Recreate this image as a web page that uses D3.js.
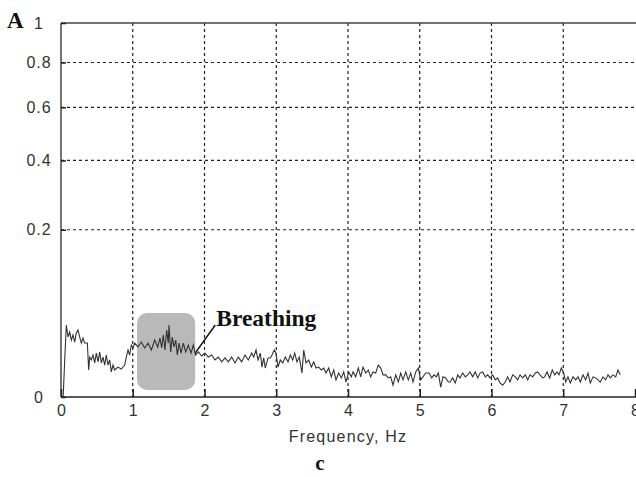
<!DOCTYPE html>
<html><head><meta charset="utf-8">
<script src="https://cdn.jsdelivr.net/npm/d3@7"></script>
<style>body{margin:0;background:#fff}svg{display:block}</style>
</head><body>
<svg id="c" width="636" height="477"></svg>
<script>
const freq = [0.03,0.05,0.074,0.098,0.121,0.144,0.167,0.191,0.213,0.237,0.261,0.283,0.307,0.330,0.367,0.386,0.400,0.422,0.446,0.470,0.492,0.516,0.539,0.562,0.585,0.609,0.631,0.655,0.679,0.701,0.725,0.748,0.794,0.840,0.888,0.910,0.934,0.957,0.980,1.003,1.027,1.073,1.119,1.167,1.213,1.259,1.306,
1.348,1.380,1.403,1.426,1.449,1.473,1.495,1.505,1.529,1.551,1.575,1.599,1.621,1.645,1.672,1.705,1.738,1.774,1.812,1.844,1.877,1.914,1.961,2.007,2.053,2.100,2.146,2.192,2.240,2.286,2.332,2.379,2.425,2.471,2.518,2.564,2.610,2.658,
2.686,2.718,2.746,2.778,2.801,2.825,2.847,2.885,2.917,2.941,2.973,2.997,3.024,3.056,3.090,3.126,3.164,3.196,3.229,3.257,3.289,3.321,3.359,3.383,3.415,3.452,3.489,3.522,3.554,3.592,3.628,3.661,3.693,3.731,3.767,3.801,3.833,3.870,3.907,3.940,3.972,4.010,4.046,
4.070,4.107,4.144,4.177,4.209,4.247,4.283,4.316,4.348,4.386,4.422,4.456,4.488,4.525,4.562,4.595,4.627,4.665,4.701,4.735,4.767,4.804,4.840,4.874,4.906,4.944,4.980,5.013,5.045,5.083,5.129,5.167,5.199,5.231,5.259,5.292,5.324,5.362,5.398,
5.422,5.459,5.495,5.529,5.561,5.599,5.635,5.668,5.700,5.738,5.774,5.808,5.840,5.877,5.914,5.947,5.979,6.017,6.053,6.086,6.118,6.156,6.192,6.226,6.258,6.295,6.332,6.365,6.397,6.435,6.471,6.504,6.537,6.574,6.610,6.644,6.676,6.714,
6.741,6.774,6.811,6.847,6.881,6.913,6.941,6.973,7.006,7.034,7.066,7.098,7.136,7.173,7.206,7.238,7.275,7.313,7.345,7.377,7.415,7.452,7.484,7.516,7.554,7.591,7.624,7.656,7.693,7.731,7.763,7.795];
const amplitude = [0,0.0083,0.0371,0.0257,0.0302,0.0232,0.0275,0.0216,0.0293,0.0321,0.0257,0.0208,0.0249,0.0208,0.0208,0.0052,0.0114,0.0098,0.0126,0.0083,0.0138,0.0088,0.0145,0.0083,0.0114,0.0073,0.0126,0.0073,0.0098,0.0045,0.0073,0.0052,0.0064,0.0056,0.0073,0.0114,0.0158,0.0126,0.0193,0.0172,0.0208,0.0179,0.0216,0.0172,0.0208,0.0158,0.0232,
0.0179,0.0249,0.0172,0.0275,0.0158,0.0321,0.0208,0.0371,0.0145,0.0257,0.0179,0.0232,0.0126,0.0208,0.0138,0.0208,0.0145,0.0193,0.0138,0.0193,0.0126,0.0145,0.0120,0.0138,0.0114,0.0126,0.0098,0.0114,0.0088,0.0109,0.0088,0.0114,0.0083,0.0114,0.0088,0.0126,0.0098,0.0138,
0.0114,0.0158,0.0098,0.0138,0.0064,0.0109,0.0060,0.0109,0.0109,0.0126,0.0158,0.0138,0.0064,0.0098,0.0083,0.0114,0.0088,0.0126,0.0098,0.0138,0.0088,0.0114,0.0041,0.0158,0.0083,0.0098,0.0064,0.0088,0.0060,0.0064,0.0052,0.0060,0.0041,0.0060,0.0029,0.0052,0.0021,0.0041,0.0026,0.0045,0.0016,0.0045,0.0029,
0.0045,0.0029,0.0060,0.0029,0.0064,0.0041,0.0052,0.0029,0.0045,0.0041,0.0073,0.0060,0.0035,0.0035,0.0026,0.0029,0.0010,0.0035,0.0016,0.0041,0.0021,0.0045,0.0021,0.0041,0.0016,0.0045,0.0060,0.0021,0.0029,0.0041,0.0041,0.0026,0.0035,0.0029,0.0041,0.0007,0.0029,0.0026,0.0016,
0.0016,0.0026,0.0014,0.0035,0.0026,0.0041,0.0029,0.0035,0.0045,0.0029,0.0045,0.0026,0.0041,0.0045,0.0029,0.0035,0.0026,0.0035,0.0021,0.0026,0.0014,0.0010,0.0016,0.0029,0.0016,0.0035,0.0029,0.0021,0.0035,0.0026,0.0035,0.0021,0.0035,0.0029,0.0041,0.0045,0.0035,0.0026,
0.0029,0.0045,0.0026,0.0052,0.0035,0.0045,0.0035,0.0060,0.0041,0.0016,0.0029,0.0014,0.0029,0.0021,0.0029,0.0016,0.0035,0.0021,0.0041,0.0014,0.0029,0.0026,0.0021,0.0016,0.0029,0.0021,0.0035,0.0026,0.0035,0.0029,0.0052,0.0035];
const xTicks = [0,1,2,3,4,5,6,7,8];
const yTicks = [0,0.2,0.4,0.6,0.8,1];
const yTickLabels = ["0","0.2","0.4","0.6","0.8","1"];
const xLabel = "Frequency, Hz";
const panelLabel = "c";
const cornerLabel = "A";
const highlightFreq = [1.06,1.87];
const highlightAmp = [0.00035,0.0504];
const annotText = "Breathing";
const annotFrom = [1.87,0.0138];   // point on trace
const annotTo = [2.15,0.037];

const svg = d3.select("#c");
const L=61,T=23,R=635,B=397;
const sans = "Liberation Sans, Arial, sans-serif";
const serif = "Liberation Serif, Times New Roman, serif";
const x = d3.scaleLinear().domain([0,8]).range([L,R]);
const y = d3.scaleSqrt().domain([0,1]).range([B,T]);

// grid
const g = svg.append("g");
g.selectAll("line.vg").data(xTicks.filter(d=>d>0&&d<8)).join("line")
  .attr("x1",d=>x(d)).attr("x2",d=>x(d)).attr("y1",T).attr("y2",B)
  .attr("stroke","#222").attr("stroke-width",1.2).attr("stroke-dasharray","3,3");
g.selectAll("line.hg").data(yTicks.filter(d=>d>0&&d<1)).join("line")
  .attr("x1",L).attr("x2",R+1).attr("y1",d=>y(d)).attr("y2",d=>y(d))
  .attr("stroke","#222").attr("stroke-width",1.2).attr("stroke-dasharray","3,3");

// highlight box
svg.append("rect")
  .attr("x",x(highlightFreq[0])).attr("y",y(highlightAmp[1]))
  .attr("width",x(highlightFreq[1])-x(highlightFreq[0]))
  .attr("height",y(highlightAmp[0])-y(highlightAmp[1]))
  .attr("rx",10).attr("ry",10).attr("fill","#b9b9b9");

// trace
const data = freq.map((f,i)=>[f,amplitude[i]]);
svg.append("path").datum(data)
  .attr("d",d3.line().x(d=>x(d[0])).y(d=>y(d[1])))
  .attr("fill","none").attr("stroke","#333").attr("stroke-width",1.1);

// axes frame
svg.append("line").attr("x1",L).attr("x2",R+1).attr("y1",T).attr("y2",T).attr("stroke","#444").attr("stroke-width",1.5);
svg.append("line").attr("x1",L).attr("x2",L).attr("y1",T).attr("y2",B).attr("stroke","#444").attr("stroke-width",1.5);
svg.append("line").attr("x1",L).attr("x2",R+1).attr("y1",B).attr("y2",B).attr("stroke","#222").attr("stroke-width",1.5);

const xAxis = svg.append("g").attr("transform",`translate(0,${B})`)
  .call(d3.axisBottom(x).tickValues(xTicks).tickSize(-8).tickPadding(8).tickFormat(d3.format("d")));
xAxis.select(".domain").remove();
xAxis.selectAll("line").attr("stroke","#222").attr("stroke-width",1.5);
xAxis.selectAll("text").attr("font-family",sans).attr("font-size",16).attr("fill","#333");

const yAxis = svg.append("g").attr("transform",`translate(${L},0)`)
  .call(d3.axisLeft(y).tickValues(yTicks).tickSize(-5).tickPadding(0).tickFormat((d,i)=>yTickLabels[i]));
yAxis.select(".domain").remove();
yAxis.selectAll("line").attr("stroke","#222").attr("stroke-width",1.5);
yAxis.selectAll("text").attr("font-family",sans).attr("font-size",16).attr("fill","#333")
  .attr("letter-spacing",1).attr("text-anchor","middle").attr("x",-22);

// labels
svg.append("text").attr("x",x(4)).attr("y",442).attr("text-anchor","middle")
  .attr("font-family",sans).attr("font-size",16).attr("letter-spacing",1.2).attr("fill","#333").text(xLabel);
svg.append("text").attr("x",320).attr("y",470).attr("text-anchor","middle")
  .attr("font-family",serif).attr("font-weight","bold").attr("font-size",21).attr("fill","#111").text(panelLabel);
svg.append("text").attr("x",7).attr("y",28)
  .attr("font-family",serif).attr("font-weight","bold").attr("font-size",23).attr("fill","#111").text(cornerLabel);

// annotation
svg.append("line").attr("x1",x(annotFrom[0])).attr("y1",y(annotFrom[1]))
  .attr("x2",x(annotTo[0])).attr("y2",y(annotTo[1])).attr("stroke","#111").attr("stroke-width",1.5);
svg.append("text").attr("x",x(annotTo[0])+1).attr("y",y(annotTo[1])+1)
  .attr("font-family",serif).attr("font-weight","bold").attr("font-size",23.5).attr("fill","#111").text(annotText);
</script>
</body></html>
